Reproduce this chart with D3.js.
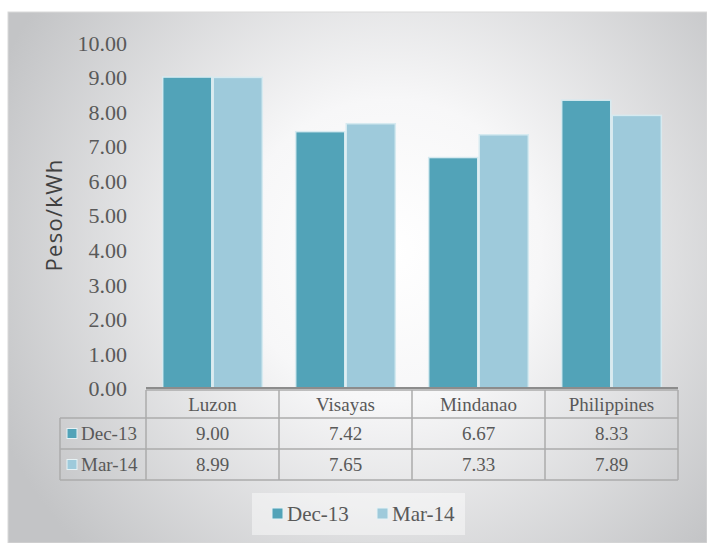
<!DOCTYPE html>
<html><head><meta charset="utf-8">
<script src="https://cdn.jsdelivr.net/npm/d3@7"></script>
<style>body{margin:0;background:#fff}svg{display:block}</style>
</head><body>
<script>
const categories = ["Luzon", "Visayas", "Mindanao", "Philippines"];
const seriesNames = ["Dec-13", "Mar-14"];
const dec13 = [9.00, 7.42, 6.67, 8.33];
const mar14 = [8.99, 7.65, 7.33, 7.89];
const tickValues = [0, 1, 2, 3, 4, 5, 6, 7, 8, 9, 10];
const yTitle = "Peso/kWh";
const colors = ["#52a3b8", "#9ecadb"];

(function () {
const W = 707, H = 543;
const svg = d3.select("body").append("svg").attr("width", W).attr("height", H);
const defs = svg.append("defs");
const rg = defs.append("radialGradient").attr("id", "bg")
  .attr("gradientUnits", "userSpaceOnUse")
  .attr("cx", 390).attr("cy", 250).attr("r", 430);
rg.append("stop").attr("offset", "0%").attr("stop-color", "#ffffff");
rg.append("stop").attr("offset", "35%").attr("stop-color", "#f7f7f8");
rg.append("stop").attr("offset", "100%").attr("stop-color", "#c3c4c6");

svg.append("rect").attr("x", 8).attr("y", 12).attr("width", W - 8).attr("height", H - 12)
  .attr("fill", "url(#bg)").attr("stroke", "#d9d9d9").attr("stroke-width", 1);

const plotL = 146, plotR = 678, plotTop = 42.5, base = 388;
const x = d3.scaleBand().domain(categories).range([plotL, plotR]);
const x1 = d3.scaleBand().domain(seriesNames).range([0, x.bandwidth()]).paddingInner(0.03).paddingOuter(0.33);
const y = d3.scaleLinear().domain([0, 10]).range([base, plotTop]);

const serif = "'Liberation Serif', serif";
const tcol = "#595959";

// y tick labels
const yAxis = d3.axisLeft(y).tickValues(tickValues).tickFormat(d3.format(".2f")).tickSize(0).tickPadding(0);
const ga = svg.append("g").attr("transform", "translate(127,0)").call(yAxis);
ga.select(".domain").remove();
ga.selectAll("text").attr("font-family", serif).attr("font-size", 22)
  .attr("fill", tcol).attr("dy", "0.35em");

// y title
svg.append("text").attr("transform", "translate(62,215) rotate(-90)")
  .attr("text-anchor", "middle").attr("font-family", "'Open Sans', sans-serif")
  .attr("font-size", 22).attr("letter-spacing", 1.3).attr("fill", "#404040").text(yTitle);

// bars
const series = [dec13, mar14];
const gBars = svg.append("g");
series.forEach((vals, si) => {
  gBars.selectAll(null).data(vals).enter().append("rect")
    .attr("x", (d, i) => x(categories[i]) + x1(seriesNames[si]))
    .attr("y", d => y(d))
    .attr("width", x1.bandwidth())
    .attr("height", d => base - y(d))
    .attr("fill", colors[si])
    .attr("stroke", "#d6eaf0").attr("stroke-width", 1.5);
});

// axis baseline
svg.append("line").attr("x1", plotL).attr("x2", plotR).attr("y1", base).attr("y2", base)
  .attr("stroke", "#8c8c8c").attr("stroke-width", 2);

// data table
const rowY = [390, 418, 449, 480];
const leftX = 60;
const tb = svg.append("g");
const border = "#ababab";
tb.append("line").attr("x1", plotL).attr("x2", plotR).attr("y1", rowY[0]).attr("y2", rowY[0]).attr("stroke", border).attr("stroke-width", 1.5);
[1, 2, 3].forEach(k => {
  tb.append("line").attr("x1", leftX).attr("x2", plotR).attr("y1", rowY[k]).attr("y2", rowY[k])
    .attr("stroke", border).attr("stroke-width", 1.5);
});
const vx = [plotL, ...categories.map(c => x(c) + x.bandwidth())];
vx.forEach(v => tb.append("line").attr("x1", v).attr("x2", v).attr("y1", rowY[0]).attr("y2", rowY[3])
  .attr("stroke", border).attr("stroke-width", 1.5));
tb.append("line").attr("x1", leftX).attr("x2", leftX).attr("y1", rowY[1]).attr("y2", rowY[3])
  .attr("stroke", border).attr("stroke-width", 1.5);

tb.selectAll(null).data(categories).enter().append("text")
  .attr("x", d => x(d) + x.bandwidth() / 2).attr("y", (rowY[0] + rowY[1]) / 2)
  .attr("dy", "0.35em").attr("text-anchor", "middle").attr("font-family", serif)
  .attr("font-size", 19).attr("fill", tcol).text(d => d);
series.forEach((vals, si) => {
  const cy = (rowY[si + 1] + rowY[si + 2]) / 2;
  tb.selectAll(null).data(vals).enter().append("text")
    .attr("x", (d, i) => x(categories[i]) + x.bandwidth() / 2).attr("y", cy)
    .attr("dy", "0.35em").attr("text-anchor", "middle").attr("font-family", serif)
    .attr("font-size", 19).attr("fill", tcol).text(d => d3.format(".2f")(d));
  tb.append("rect").attr("x", 67).attr("y", cy - 5).attr("width", 10).attr("height", 10)
    .attr("fill", colors[si]).attr("stroke", "#e6f2f5").attr("stroke-width", 1);
  tb.append("text").attr("x", 81).attr("y", cy).attr("dy", "0.35em")
    .attr("font-family", serif).attr("font-size", 19).attr("fill", tcol).text(seriesNames[si]);
});

// legend
const lg = svg.append("g");
lg.append("rect").attr("x", 252).attr("y", 493).attr("width", 213).attr("height", 42)
  .attr("fill", "#ffffff").attr("fill-opacity", 0.45);
const legX = [272, 377];
seriesNames.forEach((s, si) => {
  lg.append("rect").attr("x", legX[si]).attr("y", 508).attr("width", 11).attr("height", 11)
    .attr("fill", colors[si]).attr("stroke", "#e6f2f5").attr("stroke-width", 1);
  lg.append("text").attr("x", legX[si] + 15).attr("y", 514).attr("dy", "0.35em")
    .attr("font-family", serif).attr("font-size", 21).attr("fill", tcol).text(s);
});
})();
</script>
</body></html>
